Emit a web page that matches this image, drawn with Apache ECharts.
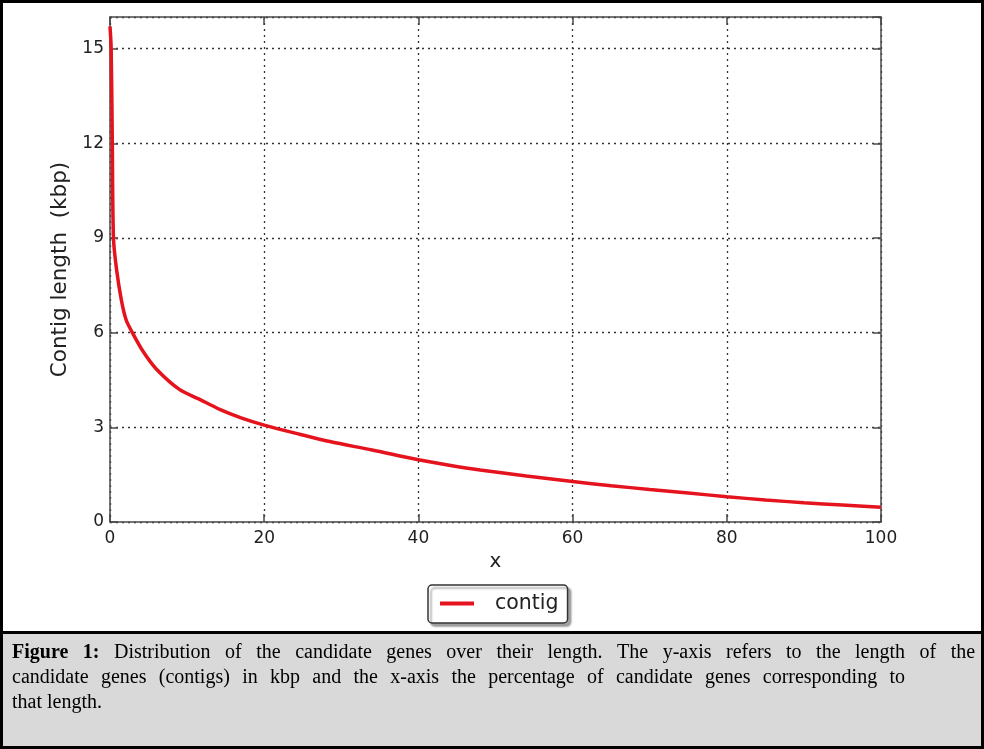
<!DOCTYPE html>
<html>
<head>
<meta charset="utf-8">
<script src="https://cdn.jsdelivr.net/npm/echarts@6/dist/echarts.min.js"></script>
<style>
html,body{margin:0;padding:0;background:#fff;}
#chart{width:984px;height:749px;}
</style>
</head>
<body>
<div id="chart"></div>
<script>
// Data
const xValues = [0, 0.15, 0.3, 0.45, 0.85, 1.5, 2.1, 2.9, 4.3, 6, 9, 11.5, 14.3, 17, 20, 24.6, 28.5, 34, 40, 44, 48, 54, 60, 65, 70, 75, 80, 85, 90, 95, 100];
const contigValues = [15.7, 15.0, 12.0, 9.0, 8.0, 7.0, 6.4, 6.0, 5.4, 4.85, 4.2, 3.9, 3.56, 3.3, 3.07, 2.78, 2.55, 2.28, 1.97, 1.8, 1.65, 1.46, 1.28, 1.15, 1.03, 0.92, 0.80, 0.70, 0.61, 0.54, 0.47];
const seriesName = 'contig';
const xAxisName = 'x';
const yAxisName = 'Contig length  (kbp)';
const captionBold = 'Figure 1:';
const captionLines = [
  'Distribution of the candidate genes over their length. The y-axis refers to the length of the',
  'candidate genes (contigs) in kbp and the x-axis the percentage of candidate genes corresponding to',
  'that length.'
];

const chart = echarts.init(document.getElementById('chart'), null, {renderer: 'canvas'});
const lineData = xValues.map((x, i) => [x, contigValues[i]]);
const axisColor = '#4a4a4a';
const gridLine = {show: true, lineStyle: {color: '#333', width: 1.3, type: [2, 4]}};
const labelFont = {fontFamily: 'DejaVu Sans', fontSize: 17, color: '#222'};

// caption rich text; word spacing differs per line as in the reference
const spaceStyles = ['s0', 's1', 's2'];
const captionRich = captionLines.map((ln, i) => {
  const sp = '{' + spaceStyles[i] + '| }';
  const body = ln.split(' ').map(w => '{n|' + w + '}').join(sp);
  return i === 0 ? captionBold.split(' ').map(w => '{b|' + w + '}').join(sp) + sp + body : body;
}).join('\n');
const serif = {fontFamily: 'Liberation Serif', fontSize: 20, lineHeight: 25, fill: '#000'};

chart.setOption({
  animation: false,
  backgroundColor: '#fff',
  grid: {left: 110, right: 103, top: 17, bottom: 227},
  xAxis: [{
    type: 'value', min: 0, max: 100, interval: 20, position: 'bottom',
    name: xAxisName, nameLocation: 'middle', nameGap: 30,
    nameTextStyle: {fontFamily: 'DejaVu Sans', fontSize: 20, color: '#222'},
    axisLine: {show: true, lineStyle: {color: axisColor, width: 1.5}},
    axisTick: {show: true, inside: true, length: 8, lineStyle: {color: axisColor, width: 1.5}},
    axisLabel: Object.assign({margin: 8}, labelFont),
    splitLine: gridLine
  }, {
    type: 'value', min: 0, max: 100, interval: 20, position: 'top',
    axisLine: {show: true, onZero: false, lineStyle: {color: axisColor, width: 1.5}},
    axisTick: {show: true, inside: true, length: 8, lineStyle: {color: axisColor, width: 1.5}},
    axisLabel: {show: false}, splitLine: {show: false}
  }],
  yAxis: [{
    type: 'value', min: 0, max: 16, interval: 3, position: 'left',
    name: yAxisName, nameLocation: 'middle', nameGap: 36, nameRotate: 90,
    nameTextStyle: {fontFamily: 'DejaVu Sans', fontSize: 21.5, color: '#222'},
    axisLine: {show: true, lineStyle: {color: axisColor, width: 1.5}},
    axisTick: {show: true, inside: true, length: 8, lineStyle: {color: axisColor, width: 1.5}},
    axisLabel: Object.assign({margin: 6, showMaxLabel: false,
      formatter: v => (v % 3 === 0 ? String(v) : '')}, labelFont),
    splitLine: gridLine
  }, {
    type: 'value', min: 0, max: 16, interval: 3, position: 'right',
    axisLine: {show: true, onZero: false, lineStyle: {color: axisColor, width: 1.5}},
    axisTick: {show: true, inside: true, length: 8, lineStyle: {color: axisColor, width: 1.5}},
    axisLabel: {show: false}, splitLine: {show: false}
  }],
  legend: {
    left: 428, top: 585,
    data: [seriesName],
    itemWidth: 34, itemHeight: 4,
    icon: 'rect',
    padding: [8, 9, 9, 12],
    borderColor: '#333', borderWidth: 1.5, borderRadius: 4,
    backgroundColor: '#fff',
    shadowColor: 'rgba(0,0,0,0.35)', shadowBlur: 2, shadowOffsetX: 3, shadowOffsetY: 3,
    textStyle: {fontFamily: 'DejaVu Sans', fontSize: 20.5, color: '#222', padding: [0, 0, 0, 16]}
  },
  series: [{
    name: seriesName, type: 'line', data: lineData, smooth: 0.3,
    showSymbol: false, symbol: 'none',
    lineStyle: {color: '#e5131d', width: 3.5},
    itemStyle: {color: '#e5131d'},
    xAxisIndex: 0, yAxisIndex: 0, z: 5
  }],
  graphic: [
    {type: 'rect', shape: {x: 0, y: 634, width: 984, height: 115}, style: {fill: '#d9d9d9'}, silent: true, z: -1},
    {type: 'line', shape: {x1: 0, y1: 632.5, x2: 984, y2: 632.5}, style: {stroke: '#000', lineWidth: 3}, silent: true},
    {type: 'rect', shape: {x: 1.5, y: 1.5, width: 981, height: 746}, style: {fill: 'none', stroke: '#000', lineWidth: 3}, silent: true, z: 10},
    {
      type: 'text', left: 12, top: 640, silent: true,
      style: Object.assign({
        text: captionRich,
        rich: {
          b: Object.assign({fontWeight: 'bold'}, serif),
          n: Object.assign({}, serif),
          s0: Object.assign({width: 14.5}, serif),
          s1: Object.assign({width: 12.3}, serif),
          s2: Object.assign({width: 5}, serif)
        }
      }, serif)
    }
  ]
});
</script>
</body>
</html>
